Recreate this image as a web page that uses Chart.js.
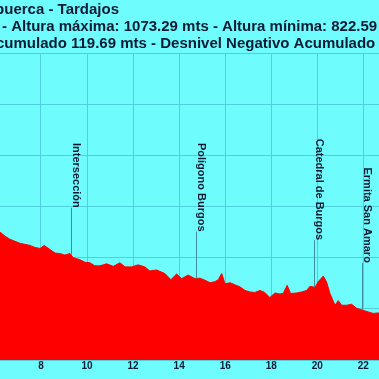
<!DOCTYPE html>
<html><head><meta charset="utf-8">
<script src="https://cdn.jsdelivr.net/npm/chart.js@4"></script>
<style>html,body{margin:0;padding:0;background:#6efcfc;overflow:hidden}#wrap{position:relative;width:379px;height:379px}</style>
</head><body><div id="wrap"><canvas id="c" width="379" height="379"></canvas></div>
<script>
// ---- data ----
const distanceKm = [6.22,6.44,6.65,6.87,7.09,7.30,7.52,7.74,7.96,8.14,8.39,8.61,8.82,9.04,9.26,9.40,9.69,9.91,10.13,10.34,10.56,10.85,11.14,11.43,11.65,11.94,12.22,12.51,12.73,13.02,13.38,13.64,13.89,14.11,14.39,14.69,14.90,15.12,15.34,15.55,15.70,15.85,15.99,16.21,16.42,16.64,16.86,17.07,17.29,17.51,17.72,17.94,18.16,18.38,18.52,18.69,18.84,19.10,19.32,19.54,19.68,19.90,20.04,20.26,20.40,20.55,20.77,20.91,21.06,21.27,21.49,21.71,21.99,22.21,22.43,22.65,22.70];
const elevationM = [925,921,918,916,914,913,912,910,909,912,908,904.5,904,902.5,904,900,898,895.5,895,892,892,894,891.5,895,891,891,893,891,887,888,884.5,878.5,884,879.5,883,879.5,880,878,875.5,876.5,878.5,884.5,874.5,875.5,873.5,871.5,868,866.5,866,868,866,861,865.5,864.5,865,873,865,865.5,866.5,868,872,871,876.5,882,876.5,865,853.5,858,853.5,853.5,854.5,850.5,848.5,847,845.5,846,846];
const waypointNames = ['Intersección','Polígono Burgos','Catedral de Burgos','Ermita San Amaro'];
const waypointKm = [9.30,14.74,19.86,21.92];
const xTickStep = 2;
const yMin = 800, yMax = 1100, yStep = 50;
const xMin = 6.22, xMax = 22.68;
const titleLines = [
  'Atapuerca - Tardajos',
  '- Altura máxima: 1073.29 mts - Altura mínima: 822.59 mts',
  'Desnivel Positivo Acumulado 119.69 mts - Desnivel Negativo Acumulado'
];

// ---- styles ----
const TEXT = '#0f1a35';
const GRID = '#4fd0dc';
const RED = '#ff0000';
const FONT = '"Liberation Sans", Arial, sans-serif';

function elevAt(km){
  for(let i=1;i<distanceKm.length;i++){
    if(km<=distanceKm[i]){
      const t=(km-distanceKm[i-1])/(distanceKm[i]-distanceKm[i-1]);
      return elevationM[i-1]+t*(elevationM[i]-elevationM[i-1]);
    }
  }
  return elevationM[elevationM.length-1];
}

const titlePlugin = {
  id:'profileTitle',
  afterDraw(chart){
    const ctx=chart.ctx; ctx.save();
    ctx.fillStyle=TEXT; ctx.textBaseline='alphabetic'; ctx.textAlign='left';
    ctx.font='bold 15px '+FONT;
    const w0=ctx.measureText(titleLines[0]).width;
    ctx.fillText(titleLines[0], 119-w0, 13.5);
    ctx.fillText(titleLines[1], 2, 31);
    const pre=ctx.measureText('Desnivel Positivo A').width;
    ctx.fillText(titleLines[2], -4-pre, 48);
    ctx.restore();
  }
};

const waypointPlugin = {
  id:'waypoints',
  afterDatasetsDraw(chart){
    const ctx=chart.ctx, xs=chart.scales.x, ys=chart.scales.y;
    ctx.save();
    ctx.font='bold 11px '+FONT;
    ctx.fillStyle=TEXT;
    waypointKm.forEach((km,i)=>{
      const px=Math.round(xs.getPixelForValue(km))+0.5;
      const py=ys.getPixelForValue(elevAt(km));
      const top=py-47;
      ctx.strokeStyle='#3f8f9f'; ctx.lineWidth=1;
      ctx.beginPath(); ctx.moveTo(px,py); ctx.lineTo(px,top); ctx.stroke();
      ctx.save();
      ctx.translate(px-0.5,top);
      ctx.rotate(Math.PI/2);
      ctx.textAlign='right'; ctx.textBaseline='bottom';
      ctx.fillText(waypointNames[i],0,0);
      ctx.restore();
    });
    ctx.restore();
  }
};

new Chart(document.getElementById('c'), {
  type:'line',
  data:{datasets:[{
    data: distanceKm.map((k,i)=>({x:k,y:elevationM[i]})),
    borderColor:RED, backgroundColor:RED, borderWidth:1,
    fill:'start', pointRadius:0, tension:0
  }]},
  options:{
    responsive:false, animation:false, devicePixelRatio:1,
    layout:{padding:{top:53,left:0,right:0,bottom:0}},
    plugins:{legend:{display:false}, tooltip:{enabled:false}, title:{display:false}},
    scales:{
      x:{type:'linear', min:xMin, max:xMax,
        afterFit(s){ s.paddingLeft=0; s.paddingRight=0; s.height=19; },
        grid:{color:GRID, drawTicks:false, lineWidth:1},
        border:{display:false},
        ticks:{stepSize:xTickStep, includeBounds:false, color:TEXT, padding:0, maxRotation:0, autoSkip:false,
          font:{family:FONT, size:10, weight:'bold'}}
      },
      y:{min:yMin, max:yMax,
        afterFit(s){ s.width=0; s.paddingTop=0; s.paddingBottom=0; },
        grid:{color:GRID, drawTicks:false, lineWidth:1},
        border:{display:false},
        ticks:{display:false, stepSize:yStep}
      }
    }
  },
  plugins:[titlePlugin, waypointPlugin]
});
</script></body></html>
